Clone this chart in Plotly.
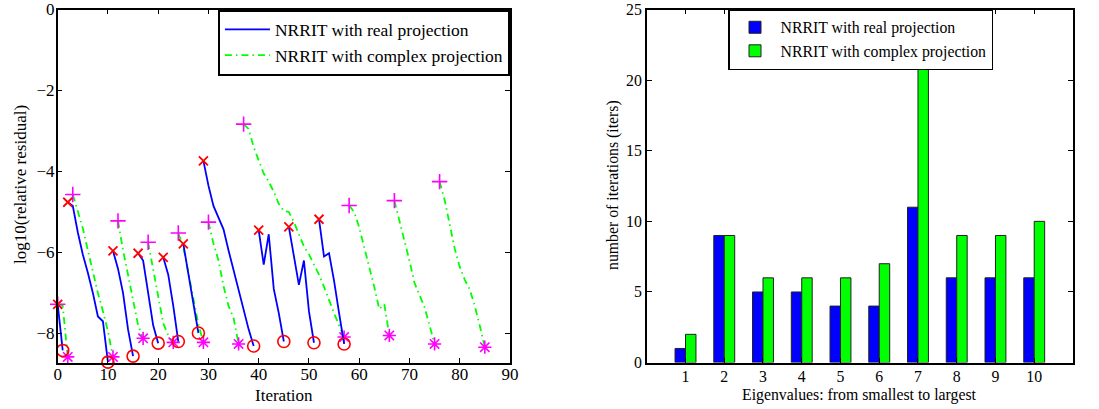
import plotly.graph_objects as go

# ---------------- data (left panel) ----------------
# starting iteration index of each eigenvalue's run
real_start = [0, 2, 11, 16, 21, 25, 29, 40, 46, 52]
complex_start = [0, 3, 12, 18, 24, 30, 37, 58, 67, 76]

# log10(relative residual) per run, NRRIT with real projection
real_log_res = [
    [-7.28, -8.42],
    [-4.76, -4.85, -5.5, -6.05, -6.5, -7.0, -7.58, -7.7, -8.71],
    [-5.96, -6.4, -7.0, -7.9, -8.56],
    [-6.02, -6.2, -7.0, -7.8, -8.24],
    [-6.12, -6.55, -7.32, -8.2],
    [-5.79, -6.5, -7.3, -7.99],
    [-3.74, -4.35, -4.85, -5.15, -5.43, -5.95, -6.45, -6.9, -7.4, -7.9, -8.31],
    [-5.45, -6.3, -5.55, -6.9, -7.5, -8.2],
    [-5.37, -6.05, -6.8, -6.2, -7.45, -8.23],
    [-5.18, -6.1, -6.02, -6.7, -7.5, -8.26],
]

# log10(relative residual) per run, NRRIT with complex projection
complex_log_res = [
    [-7.28, -7.32, -8.58],
    [-4.57, -5.0, -5.4, -5.95, -6.5, -7.0, -7.45, -7.95, -8.58],
    [-5.22, -5.95, -6.55, -7.2, -7.8, -8.12],
    [-5.75, -6.4, -7.1, -7.75, -8.05, -8.22],
    [-5.52, -5.86, -6.5, -7.15, -7.78, -8.22],
    [-5.25, -5.78, -6.2, -6.83, -7.32, -7.62, -8.26],
    [-2.83, -2.95, -3.4, -3.75, -4.05, -4.25, -4.5, -4.8, -4.98, -5.0, -5.25,
     -5.55, -5.85, -6.05, -6.3, -6.55, -6.85, -7.2, -7.5, -7.8, -8.09],
    [-4.84, -5.0, -5.38, -5.85, -6.35, -6.85, -7.4, -7.28, -8.05],
    [-4.72, -5.2, -5.65, -6.2, -6.75, -7.05, -7.35, -7.8, -8.26],
    [-4.25, -4.7, -5.3, -5.9, -6.35, -6.67, -6.91, -7.32, -7.81, -8.34],
]

# ---------------- data (right panel) ----------------
eigen_labels = ["1", "2", "3", "4", "5", "6", "7", "8", "9", "10"]
real_iters = [1, 9, 5, 5, 4, 4, 11, 6, 6, 6]
complex_iters = [2, 9, 6, 6, 6, 7, 21, 9, 9, 10]

left_ticks_x = [0, 10, 20, 30, 40, 50, 60, 70, 80, 90]
left_ticks_y = [0, -2, -4, -6, -8]
right_ticks_y = [0, 5, 10, 15, 20, 25]

NAME_REAL = "NRRIT with real projection"
NAME_CPLX = "NRRIT with complex projection"
BLUE, GREEN, RED, MAG = "#0000ff", "#00ff00", "#ff0000", "#ff00ff"
FONT = "Liberation Serif"
W, H = 1099, 409

fig = go.Figure()


def seg_x(start, vals):
    return list(range(start, start + len(vals)))


# complex projection runs (drawn first, underneath)
for i, (s, v) in enumerate(zip(complex_start, complex_log_res)):
    fig.add_trace(go.Scatter(
        x=seg_x(s, v), y=v, mode="lines",
        line=dict(color=GREEN, width=1.8, dash="7px,4px,1.5px,4px"),
        name=NAME_CPLX, legendgroup="cplx", showlegend=(i == 0),
        legendrank=2, legend="legend", xaxis="x", yaxis="y"))
fig.add_trace(go.Scatter(
    x=complex_start, y=[v[0] for v in complex_log_res], mode="markers",
    marker=dict(symbol="cross-thin-open", size=11, color=MAG,
                line=dict(color=MAG, width=1.6)),
    showlegend=False, cliponaxis=False, xaxis="x", yaxis="y"))
fig.add_trace(go.Scatter(
    x=[s + len(v) - 1 for s, v in zip(complex_start, complex_log_res)],
    y=[v[-1] for v in complex_log_res], mode="markers",
    marker=dict(symbol="asterisk-open", size=11, color=MAG,
                line=dict(color=MAG, width=1.6)),
    showlegend=False, cliponaxis=False, xaxis="x", yaxis="y"))

# real projection runs
for i, (s, v) in enumerate(zip(real_start, real_log_res)):
    fig.add_trace(go.Scatter(
        x=seg_x(s, v), y=v, mode="lines",
        line=dict(color=BLUE, width=1.8),
        name=NAME_REAL, legendgroup="real", showlegend=(i == 0),
        legendrank=1, legend="legend", xaxis="x", yaxis="y"))
fig.add_trace(go.Scatter(
    x=real_start, y=[v[0] for v in real_log_res], mode="markers",
    marker=dict(symbol="x-thin-open", size=9, color=RED,
                line=dict(color=RED, width=1.8)),
    showlegend=False, cliponaxis=False, xaxis="x", yaxis="y"))
fig.add_trace(go.Scatter(
    x=[s + len(v) - 1 for s, v in zip(real_start, real_log_res)],
    y=[v[-1] for v in real_log_res], mode="markers",
    marker=dict(symbol="circle-open", size=12, color=RED,
                line=dict(color=RED, width=1.6)),
    showlegend=False, cliponaxis=False, xaxis="x", yaxis="y"))

# right panel bars
eig_pos = [int(c) for c in eigen_labels]
fig.add_trace(go.Bar(
    x=eig_pos, y=real_iters, name=NAME_REAL,
    marker=dict(color=BLUE, line=dict(color="#222222", width=1)),
    legend="legend2", xaxis="x2", yaxis="y2"))
fig.add_trace(go.Bar(
    x=eig_pos, y=complex_iters, name=NAME_CPLX,
    marker=dict(color=GREEN, line=dict(color="#222222", width=1)),
    legend="legend2", xaxis="x2", yaxis="y2"))

axis_common = dict(showline=True, linecolor="black", linewidth=1.5,
                   mirror="ticks", ticks="inside", ticklen=5, tickwidth=1.2,
                   tickcolor="black", showgrid=False, zeroline=False,
                   automargin=False, ticklabeloverflow="allow")


def px_x(p):
    return p / W


def px_y(p):
    return 1 - p / H


ydom = [0.1135, px_y(9.5)]
xdom1 = [0.0525, 0.464]
xdom2 = [0.5885, 0.9763]

annotations = [
    dict(text="Iteration", x=(xdom1[0] + xdom1[1]) / 2, y=px_y(395),
         font=dict(size=17)),
    dict(text="log10(relative residual)", x=px_x(21), y=px_y(185),
         textangle=-90, font=dict(size=17)),
    dict(text="Eigenvalues: from smallest to largest",
         x=(xdom2[0] + xdom2[1]) / 2, y=px_y(395), font=dict(size=15.8)),
    dict(text="number of iterations (iters)", x=px_x(613), y=px_y(185),
         textangle=-90, font=dict(size=15.8)),
]
for a in annotations:
    a.update(xref="paper", yref="paper", xanchor="center", yanchor="middle",
             showarrow=False)

fig.update_layout(
    width=W, height=H,
    margin=dict(l=0, r=0, t=0, b=0),
    paper_bgcolor="white", plot_bgcolor="white",
    font=dict(family=FONT, color="black", size=17),
    barmode="group", bargap=0.46, bargroupgap=0,
    annotations=annotations,
    xaxis=dict(domain=xdom1, range=[0, 90], tickmode="array",
               tickvals=left_ticks_x, anchor="y", ticklabelstandoff=-5,
               tickfont=dict(size=17), **axis_common),
    yaxis=dict(domain=ydom, range=[-8.72, 0], tickmode="array",
               tickvals=left_ticks_y, anchor="x", ticklabelstandoff=-2,
               tickfont=dict(size=17), **axis_common),
    xaxis2=dict(domain=xdom2, range=[0, 11], tickmode="array",
                tickvals=eig_pos, ticktext=eigen_labels, anchor="y2",
                ticklabelstandoff=-1,
                tickfont=dict(size=15.8), **axis_common),
    yaxis2=dict(domain=ydom, range=[0, 25], tickmode="array",
                tickvals=right_ticks_y, anchor="x2",
                tickfont=dict(size=15.8), **axis_common),
    legend=dict(x=xdom1[1], xanchor="right", y=ydom[1], yanchor="top",
                bgcolor="white", bordercolor="black", borderwidth=2,
                font=dict(size=17.5), tracegroupgap=0, itemwidth=45),
    legend2=dict(x=px_x(728), xanchor="left", y=px_y(9), yanchor="top",
                 bgcolor="white", bordercolor="black", borderwidth=1.5,
                 font=dict(size=15.8), itemwidth=41),
)

fig.write_html("out.html", config={"displayModeBar": False},
               post_script="document.body.style.margin='0';")
